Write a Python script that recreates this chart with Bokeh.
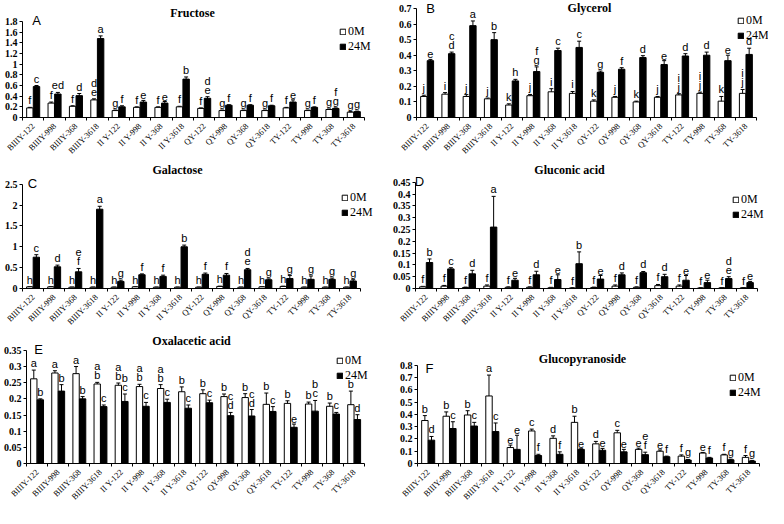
import math
from bokeh.plotting import figure
from bokeh.models import (ColumnDataSource, Range1d, Whisker, TeeHead,
                          Label, Legend, LegendItem, FixedTicker, PrintfTickFormatter)
from bokeh.transform import dodge
from bokeh.layouts import column, row
from bokeh.core.properties import value
from bokeh.embed import file_html
from bokeh.resources import INLINE

cats = ["BIIIY-122", "BIIIY-998", "BIIIY-368", "BIIIY-3618",
        "II Y-122", "II Y-998", "II Y-368", "II Y-3618",
        "QY-122", "QY-998", "QY-368", "QY-3618",
        "TY-122", "TY-998", "TY-368", "TY-3618"]
series_names = ["0M", "24M"]

# A Fructose
fru_0m = [0.18, 0.27, 0.21, 0.33, 0.13, 0.19, 0.19, 0.20, 0.17, 0.13, 0.13, 0.13, 0.18, 0.13, 0.15, 0.10]
fru_0m_err = [0.01, 0.02, 0.01, 0.02, 0.01, 0.01, 0.01, 0.01, 0.01, 0.01, 0.01, 0.01, 0.01, 0.01, 0.01, 0.01]
fru_24m = [0.58, 0.44, 0.41, 1.48, 0.20, 0.29, 0.27, 0.72, 0.36, 0.23, 0.23, 0.22, 0.29, 0.19, 0.17, 0.11]
fru_24m_err = [0.02, 0.03, 0.04, 0.05, 0.02, 0.03, 0.03, 0.04, 0.03, 0.01, 0.01, 0.01, 0.04, 0.01, 0.01, 0.01]
fru_0m_let = ["f", "f", "f", "d\ne", "g", "f", "f", "f", "f", "g", "g", "g", "f", "g", "g", "g"]
fru_24m_let = ["c", "ed", "d", "a", "f", "e", "e", "b", "d\ne", "f", "f", "f", "e", "f", "f\ng", "g"]

# B Glycerol
gly_0m = [0.135, 0.15, 0.135, 0.12, 0.08, 0.14, 0.165, 0.155, 0.105, 0.13, 0.10, 0.13, 0.145, 0.155, 0.105, 0.155]
gly_0m_err = [0.008, 0.01, 0.012, 0.005, 0.008, 0.008, 0.02, 0.012, 0.008, 0.005, 0.005, 0.005, 0.008, 0.008, 0.03, 0.025]
gly_24m = [0.365, 0.41, 0.59, 0.50, 0.235, 0.295, 0.43, 0.45, 0.29, 0.31, 0.385, 0.34, 0.395, 0.40, 0.365, 0.405]
gly_24m_err = [0.008, 0.01, 0.03, 0.045, 0.01, 0.03, 0.015, 0.04, 0.008, 0.01, 0.012, 0.025, 0.015, 0.02, 0.035, 0.04]
gly_0m_let = ["j", "i", "j", "j", "k", "j", "i", "i", "k", "j", "k", "j", "i\nj", "i\nj", "k", "i\nj"]
gly_24m_let = ["e", "c\nd", "a", "b", "h", "f\ng", "c", "c", "g", "f", "d", "e", "d", "d", "e", "d"]

# C Galactose
gal_0m = [0.04, 0.04, 0.03, 0.03, 0.03, 0.04, 0.03, 0.03, 0.03, 0.05, 0.03, 0.04, 0.05, 0.03, 0.03, 0.03]
gal_0m_err = [0.005, 0.005, 0.005, 0.005, 0.005, 0.005, 0.005, 0.005, 0.005, 0.005, 0.005, 0.005, 0.005, 0.005, 0.005, 0.005]
gal_24m = [0.75, 0.52, 0.40, 1.90, 0.17, 0.33, 0.29, 1.00, 0.34, 0.32, 0.45, 0.21, 0.24, 0.22, 0.22, 0.18]
gal_24m_err = [0.06, 0.04, 0.08, 0.07, 0.03, 0.02, 0.03, 0.04, 0.03, 0.04, 0.03, 0.02, 0.07, 0.08, 0.03, 0.03]
gal_0m_let = ["h", "h", "h", "h", "h", "h", "h", "h", "h", "h", "h", "h", "h", "h", "h", "h"]
gal_24m_let = ["c", "d", "e\nf", "a", "g", "f", "f", "b", "f", "f", "d\ne", "g", "g", "g", "g", "g"]

# D Gluconic acid
glu_0m = [0.007, 0.01, 0.004, 0.01, 0.005, 0.005, 0.003, 0.002, 0.004, 0.01, 0.005, 0.012, 0.01, 0.002, 0.003, 0.003]
glu_0m_err = [0.002, 0.003, 0.002, 0.005, 0.002, 0.002, 0.002, 0.001, 0.002, 0.005, 0.002, 0.005, 0.005, 0.001, 0.001, 0.001]
glu_24m = [0.11, 0.083, 0.062, 0.26, 0.035, 0.058, 0.038, 0.105, 0.04, 0.058, 0.067, 0.05, 0.035, 0.025, 0.042, 0.025]
glu_24m_err = [0.015, 0.005, 0.015, 0.13, 0.008, 0.015, 0.02, 0.05, 0.015, 0.008, 0.005, 0.01, 0.02, 0.01, 0.008, 0.005]
glu_0m_let = ["f", "f", "f", "f", "f", "f", "f", "f", "f", "f", "f", "f", "f", "f", "f", "f"]
glu_24m_let = ["b", "c", "d", "a", "e", "d", "e", "b", "e", "d", "d", "d", "e", "e", "d\ne", "e"]

# E Oxalacetic acid
oxa_0m = [0.262, 0.28, 0.278, 0.246, 0.242, 0.238, 0.232, 0.222, 0.216, 0.207, 0.204, 0.183, 0.186, 0.184, 0.177, 0.182]
oxa_0m_err = [0.027, 0.007, 0.022, 0.005, 0.007, 0.007, 0.012, 0.015, 0.012, 0.008, 0.012, 0.035, 0.008, 0.006, 0.01, 0.042]
oxa_24m = [0.197, 0.224, 0.20, 0.176, 0.192, 0.177, 0.189, 0.171, 0.188, 0.148, 0.147, 0.161, 0.112, 0.162, 0.153, 0.136]
oxa_24m_err = [0.003, 0.02, 0.007, 0.005, 0.023, 0.012, 0.01, 0.01, 0.008, 0.01, 0.02, 0.015, 0.01, 0.033, 0.005, 0.015]
oxa_0m_let = ["a", "a", "a", "a\nb", "a\nb", "a\nb", "a\nb", "b", "b", "b", "b", "b", "b", "b", "b", "b"]
oxa_24m_let = ["b", "b", "b", "c", "b\nc", "c", "c", "c", "c", "c\nd", "c\nd", "c", "e", "b\nc", "c", "d"]

# F Glucopyranoside
glc_0m = [0.35, 0.385, 0.395, 0.55, 0.13, 0.265, 0.205, 0.335, 0.16, 0.25, 0.115, 0.10, 0.06, 0.085, 0.07, 0.05]
glc_0m_err = [0.04, 0.035, 0.035, 0.17, 0.02, 0.015, 0.02, 0.05, 0.02, 0.02, 0.01, 0.01, 0.01, 0.005, 0.005, 0.015]
glc_24m = [0.19, 0.285, 0.305, 0.26, 0.115, 0.065, 0.075, 0.115, 0.108, 0.095, 0.072, 0.055, 0.028, 0.045, 0.03, 0.02]
glc_24m_err = [0.03, 0.055, 0.03, 0.07, 0.115, 0.01, 0.02, 0.005, 0.015, 0.02, 0.02, 0.005, 0.005, 0.005, 0.005, 0.005]
glc_0m_let = ["b", "b", "b", "a", "e", "c", "d", "b", "d", "c", "e", "e", "f", "e", "f", "f"]
glc_24m_let = ["d", "c", "c", "c", "e", "f", "f", "e", "e", "e", "e\nf", "f", "g", "f", "g", "g"]

SERIF = "Liberation Serif"
SANS = "Liberation Sans"
OFF = 0.155
BW = 0.3
N = len(cats)
ITEM_H = 13
LEG_SHIFT = 10


def make_panel(title, letter, v0, e0, l0, v1, e1, l1, ymax, step,
               origin, w, h, box, title_pos, letter_pos, leg):
    fx, fy = origin
    L, R, T, B = box          # page coords of axis extents
    bl = L - fx
    bb = fy + h - B
    frame_left, frame_right = L, fx + w
    frame_top, frame_bottom = fy, B

    def sx(px):
        return px - frame_left

    def sy(py):
        return frame_bottom - py

    x_end = -0.5 + N * (frame_right - L) / (R - L)
    y_end = ymax * (B - frame_top) / (B - T)

    src = ColumnDataSource(dict(
        x=list(range(N)), v0=v0, v1=v1,
        up0=[a + b for a, b in zip(v0, e0)], lo0=[a - b for a, b in zip(v0, e0)],
        up1=[a + b for a, b in zip(v1, e1)], lo1=[a - b for a, b in zip(v1, e1)],
        l0=l0, l1=l1))

    p = figure(x_range=Range1d(-0.5, x_end), y_range=Range1d(0, y_end),
               width=w, height=h, output_backend="svg", toolbar_location=None,
               min_border_left=bl, min_border_right=0, min_border_top=0,
               min_border_bottom=bb)
    p.outline_line_color = None
    p.xgrid.visible = False
    p.ygrid.visible = False
    p.background_fill_color = "white"
    p.border_fill_color = "white"

    r0 = p.vbar(x=dodge("x", -OFF), top="v0", width=BW, source=src,
                fill_color="white", line_color="black", line_width=1)
    r1 = p.vbar(x=dodge("x", OFF), top="v1", width=BW, source=src,
                fill_color="black", line_color="black", line_width=1)

    for off, up, lo in ((-OFF, "up0", "lo0"), (OFF, "up1", "lo1")):
        wk = Whisker(base=dodge("x", off), upper=up, lower=lo,
                     source=src, line_color="black", line_width=1,
                     upper_head=TeeHead(size=4, line_color="black", line_width=1),
                     lower_head=TeeHead(size=4, line_color="black", line_width=1))
        p.add_layout(wk)

    for off, up, lab in ((-OFF, "up0", "l0"), (OFF, "up1", "l1")):
        p.text(x=dodge("x", off), y=up, text=lab, source=src,
               text_align="center", text_baseline="bottom",
               text_font=value(SANS), text_font_size="11px", text_color="black",
               text_line_height=0.75, y_offset=-1)

    ticks = [round(i * step, 4) for i in range(int(round(ymax / step)) + 1)]
    p.yaxis.ticker = FixedTicker(ticks=ticks)
    p.yaxis.formatter = PrintfTickFormatter(format="%g")
    p.yaxis.bounds = (0, ymax)
    p.yaxis.major_tick_out = 3
    p.yaxis.major_tick_in = 0
    p.yaxis.major_label_standoff = 2
    p.yaxis.major_label_text_font = SERIF
    p.yaxis.major_label_text_font_style = "bold"
    p.yaxis.major_label_text_font_size = "10px"
    p.yaxis.major_label_text_color = "black"
    p.yaxis.axis_line_color = "black"

    p.xaxis.ticker = FixedTicker(ticks=list(range(N)),
                                 minor_ticks=[i - 0.5 for i in range(N + 1)])
    p.xaxis.major_label_overrides = {i: c for i, c in enumerate(cats)}
    p.xaxis.bounds = (-0.5, N - 0.5)
    p.xaxis.major_label_orientation = math.pi / 4
    p.xaxis.major_label_text_font = SERIF
    p.xaxis.major_label_text_font_size = "8.5px"
    p.xaxis.major_label_text_color = "black"
    p.xaxis.major_tick_out = 0
    p.xaxis.major_tick_in = 0
    p.xaxis.minor_tick_out = 3
    p.xaxis.minor_tick_in = 0
    p.xaxis.minor_tick_line_color = "black"
    p.xaxis.major_label_standoff = 4
    p.xaxis.axis_line_color = "black"

    p.add_layout(Label(x=sx(title_pos[0]), y=sy(title_pos[1]), x_units="screen", y_units="screen",
                       text=title, text_font=SERIF, text_font_style="bold",
                       text_font_size="12px", text_align="center", text_baseline="middle",
                       text_color="black"))
    p.add_layout(Label(x=sx(letter_pos[0]), y=sy(letter_pos[1]), x_units="screen", y_units="screen",
                       text=letter, text_font=SANS, text_font_size="13px",
                       text_align="center", text_baseline="middle", text_color="black"))

    gx, row1 = leg
    leg_h = 2 * ITEM_H
    top = row1 - ITEM_H / 2
    legend = Legend(items=[LegendItem(label=series_names[0], renderers=[r0]),
                           LegendItem(label=series_names[1], renderers=[r1])],
                    location=(sx(gx), sy(top + leg_h + LEG_SHIFT)),
                    orientation="vertical", glyph_width=7, glyph_height=7,
                    label_height=ITEM_H, label_standoff=2, spacing=0,
                    padding=0, margin=0, border_line_alpha=0, background_fill_alpha=0,
                    label_text_font=SERIF, label_text_font_size="12px",
                    label_text_color="black")
    p.add_layout(legend)
    return p


pA = make_panel("Fructose", "A", fru_0m, fru_0m_err, fru_0m_let, fru_24m, fru_24m_err, fru_24m_let,
                1.8, 0.2, (8, 8), 384, 163, (30, 372, 29, 125), (200, 20), (44, 28), (347, 32))
pB = make_panel("Glycerol", "B", gly_0m, gly_0m_err, gly_0m_let, gly_24m, gly_24m_err, gly_24m_let,
                0.7, 0.1, (392, 8), 384, 163, (424, 764, 16, 125), (597, 15), (438, 16), (745, 21))
pC = make_panel("Galactose", "C", gal_0m, gal_0m_err, gal_0m_let, gal_24m, gal_24m_err, gal_24m_let,
                2.5, 0.5, (8, 171), 384, 170, (30, 368, 192, 298), (185, 179), (40, 193), (349, 200))
pD = make_panel("Gluconic acid", "D", glu_0m, glu_0m_err, glu_0m_let, glu_24m, glu_24m_err, glu_24m_let,
                0.45, 0.05, (392, 171), 384, 170, (423, 765, 190, 298), (577, 179), (427, 191), (740, 202))
pE = make_panel("Oxalacetic acid", "E", oxa_0m, oxa_0m_err, oxa_0m_let, oxa_24m, oxa_24m_err, oxa_24m_let,
                0.35, 0.05, (8, 341), 384, 175, (30, 372, 358, 472), (195, 349), (42, 358), (340, 362))
pF = make_panel("Glucopyranoside", "F", glc_0m, glc_0m_err, glc_0m_let, glc_24m, glc_24m_err, glc_24m_let,
                0.8, 0.1, (392, 341), 384, 175, (425, 767, 373, 472), (590, 367), (437, 377), (737, 379))

layout = column(row(pA, pB), row(pC, pD), row(pE, pF))
open("out.html", "w").write(file_html(layout, INLINE))
